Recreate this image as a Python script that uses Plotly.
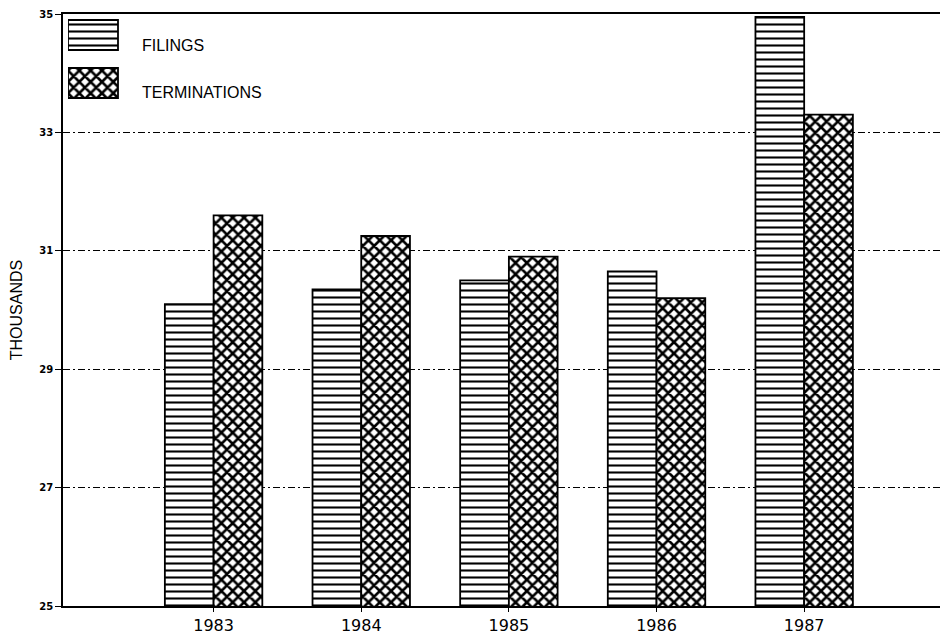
import plotly.graph_objects as go

years = ["1983", "1984", "1985", "1986", "1987"]
filings = [30.1, 30.35, 30.5, 30.65, 34.95]
terminations = [31.6, 31.25, 30.9, 30.2, 33.3]
series_names = ["FILINGS", "TERMINATIONS"]
y_ticks = [25, 27, 29, 31, 33, 35]

W, H = 940, 640
ML, MR, MT, MB = 63, 0, 14, 34
PW, PH = W - ML - MR, H - MT - MB

line_pat = dict(shape="-", fgcolor="black", fgopacity=1, bgcolor="white", size=7, solidity=0.3)
cross_pat = dict(shape="x", fgcolor="black", fgopacity=1, bgcolor="white", size=8, solidity=0.55)
outline = dict(color="black", width=1.8)

fig = go.Figure()
fig.add_trace(go.Bar(x=years, y=filings, name=series_names[0],
                     marker=dict(color="white", pattern=line_pat, line=outline),
                     showlegend=False))
fig.add_trace(go.Bar(x=years, y=terminations, name=series_names[1],
                     marker=dict(color="white", pattern=cross_pat, line=outline),
                     showlegend=False))

# custom legend swatches on an inset axis pair
for name, pat in zip(series_names, [line_pat, cross_pat]):
    fig.add_trace(go.Bar(y=[name], x=[1], orientation="h", xaxis="x2", yaxis="y2",
                         width=0.625, offset=-0.3125,
                         marker=dict(color="white", pattern=pat, line=outline),
                         showlegend=False, hoverinfo="skip"))

def px_to_paper_y(py):
    return (H - MB - py) / PH

for name, ty in zip(series_names, [45, 92]):
    fig.add_annotation(text=name, xref="paper", yref="paper",
                       x=(140 - ML) / PW, y=px_to_paper_y(ty),
                       xanchor="left", yanchor="middle", showarrow=False,
                       font=dict(family="Liberation Sans", size=16, color="black"))

fig.update_layout(
    width=W, height=H,
    margin=dict(l=ML, r=MR, t=MT, b=MB, autoexpand=False),
    paper_bgcolor="white", plot_bgcolor="white",
    barmode="group", bargap=0.34, bargroupgap=0,
    xaxis=dict(range=[-1.02, 4.92], showline=True, linecolor="black", linewidth=1.5,
               mirror=True, ticks="outside", ticklen=4, tickcolor="black",
               tickfont=dict(family="DejaVu Sans", size=16, color="black"),
               ticklabelstandoff=0, showgrid=False, zeroline=False, automargin=False),
    yaxis=dict(range=[25, 35], tickvals=y_ticks, showline=True, linecolor="black",
               linewidth=1.5, ticks="outside", ticklen=6, tickcolor="black",
               tickfont=dict(family="DejaVu Sans", size=10, color="black", weight="bold"),
               showgrid=True, gridcolor="black", gridwidth=1,
               griddash="7px,3px,2px,3px", zeroline=False, automargin=False,
               title=dict(text="THOUSANDS", standoff=13,
                          font=dict(family="Liberation Sans", size=16, color="black"))),
    xaxis2=dict(domain=[5 / PW, 0.5], range=[0, (0.5 - 5 / PW) * PW / 50],
                visible=False, anchor="y2", fixedrange=True),
    yaxis2=dict(domain=[0.85, 1.0], range=[1.4125, -0.4375], visible=False,
                anchor="x2", type="category", categoryarray=series_names,
                fixedrange=True),
)

fig.write_html("out.html", config={"displayModeBar": False},
               post_script="document.body.style.margin='0';"
                           "document.body.style.overflow='hidden';")
